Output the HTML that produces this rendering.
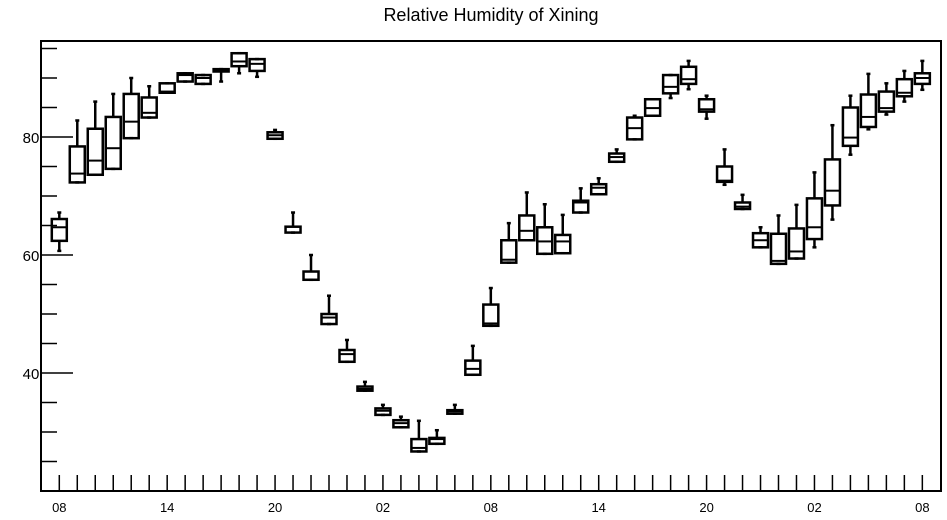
<!DOCTYPE html>
<html><head><meta charset="utf-8"><style>
body{margin:0;background:#fff;}
svg{display:block;font-family:"Liberation Sans",sans-serif;}
</style></head><body>
<svg id="chart" width="947" height="520" viewBox="0 0 947 520">
<text x="491" y="21" text-anchor="middle" font-size="18">Relative Humidity of Xining</text>
<rect x="41" y="41" width="900" height="450" fill="none" stroke="#000" stroke-width="2"/>
<g id="axes"></g><g id="boxes"></g>
</svg>
<script>
const hourLabels=["08","14","20","02","08","14","20","02","08"];
const yTicks=[40,60,80];
const whiskerHigh=[67.2,82.8,86,87.3,90,88.6,89.1,90.8,90.5,91.5,94.2,93.2,81.2,67.2,60,53.1,45.6,38.5,34.6,32.6,31.9,30.3,34.6,44.6,54.4,65.4,70.6,68.6,66.8,71.3,73,77.9,83.6,86.4,90.5,92.9,87,77.9,70.2,64.7,66.7,68.5,74,82,87,90.7,89.1,91.2,92.9];
const q3=[66.1,78.4,81.4,83.4,87.3,86.7,89.1,90.8,90.5,91.5,94.2,93.2,80.8,64.8,57.2,50,43.9,37.7,34,32,28.8,29,33.7,42.1,51.6,62.5,66.7,64.7,63.4,69.2,72,77.2,83.3,86.4,90.5,91.9,86.4,75,68.9,63.7,63.6,64.5,69.6,76.2,85,87.2,87.7,89.8,90.8];
const medians=[64.7,73.8,76,78.1,82.6,84.1,87.7,90.5,90,91.3,92.8,92.4,80.3,64.8,57.2,49.4,43.2,37.3,33.6,31.5,27.3,28.8,33.5,40.7,48.4,59.2,64.1,62.3,62.3,68.9,71.4,76.6,81.5,84.9,88.5,89.8,84.7,72.6,68.2,62.5,59,60.6,64.7,70.9,79.9,83.4,84.9,87.5,90];
const q1=[62.4,72.3,73.6,74.6,79.8,83.3,87.5,89.4,89,91.1,92,91.2,79.7,63.8,55.8,48.3,41.9,37,32.9,30.8,26.7,28,33.1,39.7,48,58.7,62.5,60.2,60.3,67.2,70.3,75.8,79.6,83.6,87.4,89,84.3,72.4,67.8,61.3,58.5,59.4,62.7,68.4,78.5,81.7,84.3,86.9,89];
const whiskerLow=[60.7,72.3,73.6,74.6,79.8,83.3,87.5,89.4,89,89.4,90.8,90.2,79.7,63.8,55.8,48.3,41.9,37,32.9,30.8,26.7,28,33.1,39.7,48,58.7,62.5,60.2,60.3,67.2,70.3,75.8,79.6,83.6,86.6,88.1,83.1,71.9,67.8,61.3,58.5,59.4,61.3,66,77,81.3,83.8,86,88];
const NS="http://www.w3.org/2000/svg";
const xS=i=>59.3+i*17.98;
const yS=v=>137+(80-v)*5.9;
function mk(tag,attrs,parent){const e=document.createElementNS(NS,tag);for(const k in attrs)e.setAttribute(k,attrs[k]);parent.appendChild(e);return e;}
const ax=document.getElementById('axes');
for(let v=25;v<=95;v+=5){
  const major=yTicks.includes(v);
  const t=mk('line',{x1:41,x2:major?73:57,y1:yS(v),y2:yS(v),stroke:'#000','stroke-width':1.5},ax);
  
  
}
yTicks.forEach(v=>{const t=mk('text',{x:31,y:yS(v)+6,'text-anchor':'middle','font-size':15},ax);t.textContent=v;
  
  });
for(let i=0;i<49;i++){
  const t=mk('line',{x1:xS(i),x2:xS(i),y1:475,y2:491,stroke:'#000','stroke-width':1.5},ax);
  
  
}
hourLabels.forEach((l,k)=>{const t=mk('text',{x:xS(k*6),y:512,'text-anchor':'middle','font-size':13},ax);t.textContent=l;
  
  });
const bx=document.getElementById('boxes');
for(let i=0;i<q3.length;i++){
  const g=mk('g',{stroke:'#000','stroke-width':2.5,fill:'none'},bx);
  
  
  const x=xS(i);
  mk('line',{x1:x,x2:x,y1:yS(whiskerHigh[i]),y2:yS(q3[i])},g);
  mk('line',{x1:x-2,x2:x+2,y1:yS(whiskerHigh[i]),y2:yS(whiskerHigh[i])},g);
  mk('line',{x1:x,x2:x,y1:yS(q1[i]),y2:yS(whiskerLow[i])},g);
  mk('line',{x1:x-2,x2:x+2,y1:yS(whiskerLow[i]),y2:yS(whiskerLow[i])},g);
  mk('rect',{x:x-7.5,y:yS(q3[i]),width:15,height:Math.max(1,yS(q1[i])-yS(q3[i]))},g);
  mk('line',{x1:x-7.5,x2:x+7.5,y1:yS(medians[i]),y2:yS(medians[i]),'stroke-width':2},g);
}
</script>
</body></html>
